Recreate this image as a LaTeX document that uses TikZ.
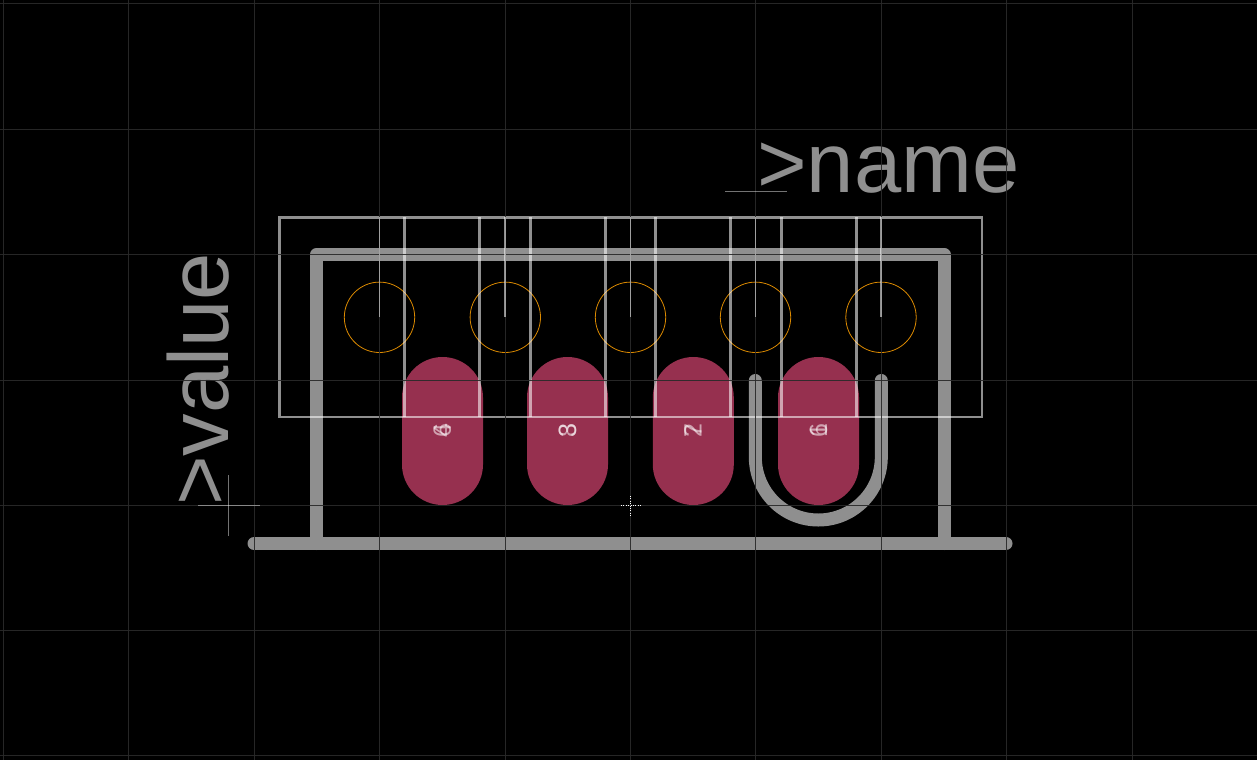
\documentclass[tikz,border=0pt]{standalone}
\usepackage{fontspec}
\setmainfont{Liberation Sans}
\definecolor{thickgray}{HTML}{8F8F8F}
\definecolor{gridgray}{HTML}{2A2A2A}
\definecolor{padred}{HTML}{96304F}
\definecolor{drillorange}{HTML}{DC8A00}
\tikzset{
  thickline/.style={draw=thickgray,line width=13pt,line cap=round,line join=round},
  wire/.style={draw=white,draw opacity=.56,line width=2.4pt},
  thinwire/.style={draw=white,draw opacity=.56,line width=1.8pt},
  drill/.style={draw=drillorange,line width=.8pt},
  padshape/.style={fill=padred},
  gridline/.style={draw=gridgray,draw opacity=.92,line width=1pt},
  bigtext/.style={text=thickgray,inner sep=0pt,font=\fontsize{85}{85}\selectfont},
  padnum/.style={text=white,text opacity=.55,inner sep=0pt,rotate=90,font=\fontsize{25}{25}\selectfont},
  cross/.style={draw=white,draw opacity=.45,line width=1pt},
  origin/.style={draw=white,line width=1pt,dash pattern=on 1pt off 1.4pt}
}
\begin{document}
\begin{tikzpicture}[x=1pt,y=-1pt]
\useasboundingbox[fill=black] (0,0) rectangle (1257,760);
% pads
\foreach \cx in {442.5,567.5,693.3,818.5}{
  \fill[padshape] (\cx-40.5,397.5) arc[start angle=180,end angle=360,x radius=40.5,y radius=40.5]
     -- (\cx+40.5,464.5) arc[start angle=0,end angle=180,x radius=40.5,y radius=40.5] -- cycle;
}
% drill circles
\foreach \cx in {379.5,505.3,630.5,755.5,881}{
  \draw[drill] (\cx,317.3) circle[radius=35.2];
}
% thick outline
\draw[thickline] (316.5,543.5) -- (316.5,254.5) -- (944,254.5) -- (944,543.5);
\draw[thickline] (254,543.5) -- (1006,543.5);
\draw[thickline] (755.3,380.5) -- (755.3,457) arc[start angle=180,end angle=0,x radius=63,y radius=63] -- (881.3,380.5);
% text
\node[bigtext,anchor=base west] (nametext) at (757,192) {>name};
\node[bigtext,anchor=base west,rotate=90] (valuetext) at (228.5,506) {>value};
% package wires
\draw[wire] (279.3,217.3) rectangle (981.7,417);
\foreach \x in {404.3,479.3,530.3,605.3,655.3,730.3,781.3,856.3}{
  \draw[wire] (\x,217.3) -- (\x,417);
}
% pad numbers
\node[padnum] (n4) at (442.3,430.5) {4};
\node[padnum] (n9) at (442.3,430.5) {6};
\node[padnum] (n3) at (567.5,430.5) {3};
\node[padnum] (n8) at (567.5,430.5) {8};
\node[padnum] (n2) at (693,430.5) {2};
\node[padnum] (n7) at (693,430.5) {7};
\node[padnum] (n1) at (818.5,430.5) {1};
\node[padnum] (n6) at (818.5,430.5) {6};
% grid
\foreach \x in {3.3,128.8,254.3,379.8,505.3,630.5,755.5,881.2,1006.5,1132}{
  \draw[gridline] (\x,0) -- (\x,760);
}
\foreach \y in {3.7,129.2,254.5,380.2,505.2,630.4,755.6}{
  \draw[gridline] (0,\y) -- (1257,\y);
}
% lines above the grid
\foreach \x in {379.5,505.3,630.5,755.5,881}{
  \draw[thinwire] (\x,217.3) -- (\x,317);
}
\draw[cross] (725,191.5) -- (787,191.5);
\draw[cross] (198,505.3) -- (260,505.3);
\draw[cross] (228.5,475) -- (228.5,536);
% centre origin mark
\draw[origin] (621,505.3) -- (640.5,505.3);
\draw[origin] (630.5,496) -- (630.5,515.5);
\end{tikzpicture}
\end{document}
